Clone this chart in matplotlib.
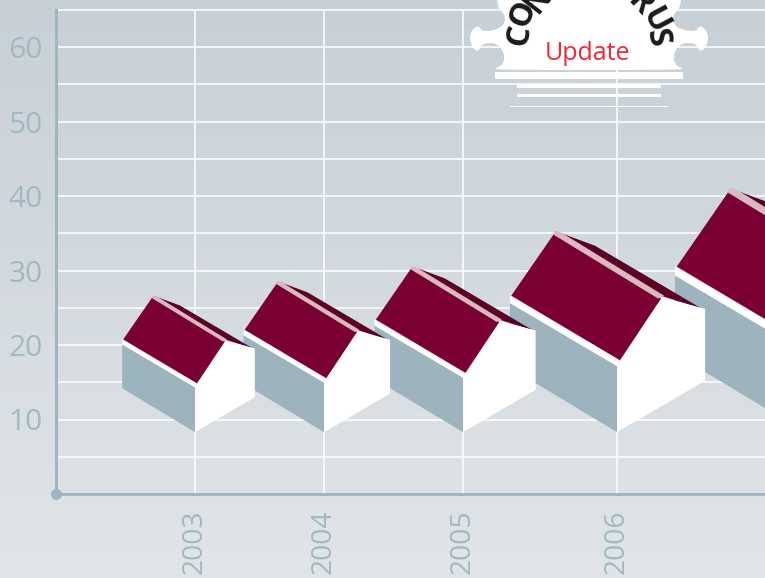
import numpy as np
import matplotlib
matplotlib.use("Agg")
import matplotlib.pyplot as plt
from matplotlib.patches import Polygon, PathPatch
from matplotlib.path import Path

plt.rcParams['font.family'] = ['Open Sans', 'DejaVu Sans']

# data
years = [2003, 2004, 2005, 2006, 2007]
values = [26.5, 28.4, 30.4, 35.1, 40.8]
slots = [195, 324, 463, 617, 805]
y_major = [10, 20, 30, 40, 50, 60]
y_grid = [5, 10, 15, 20, 25, 30, 35, 40, 45, 50, 55, 60, 65]
logo_letters = ['C', 'O', 'N', 'R', 'U', 'S']
logo_word = 'Update'

W, H = 765, 578
PX = 7.45           # pixels per value unit
BASE = 8.3          # value level of the houses' front corner
REF = 136.0         # template height in px
AXC = '#9fb6c0'
TXT = '#a2b9c3'

fig = plt.figure(figsize=(W / 100, H / 100), dpi=100)

# background gradient
bg = fig.add_axes([0, 0, 1, 1], zorder=0)
bg.axis('off')
top, bot = np.array([0xc7, 0xd0, 0xd6]) / 255, np.array([0xe1, 0xe5, 0xe8]) / 255
t = np.linspace(0, 1, 256)[:, None, None]
bg.imshow(top * (1 - t) + bot * t, aspect='auto', extent=[0, 1, 0, 1], origin='upper')

# main axes: x in slot units (pixels), y in values
y0_px = 494
ax = fig.add_axes([56 / W, (H - y0_px) / H, (W - 56) / W, y0_px / H], zorder=1)
ax.patch.set_visible(False)

for g in y_grid:
    ax.plot([56, W], [g, g], color='white', lw=1.1, zorder=1, solid_capstyle='butt')
for s in slots[:-1]:
    ax.plot([s, s], [0, 65], color='white', lw=1.1, zorder=1, solid_capstyle='butt')

for sp in ('top', 'right'):
    ax.spines[sp].set_visible(False)
for sp in ('left', 'bottom'):
    ax.spines[sp].set_color(AXC)
    ax.spines[sp].set_linewidth(2.2)
    ax.spines[sp].set_zorder(3)

ax.set_yticks(y_major)
ax.set_xticks(slots, labels=[str(y) for y in years])
ax.set_xlim(56, W)
ax.set_ylim(0, y0_px / PX)
ax.spines['left'].set_bounds(0, 65)
ax.tick_params(axis='y', length=0, pad=9.5, labelsize=21.5, labelcolor=TXT)
ax.tick_params(axis='x', length=0, pad=11, labelsize=20.3, labelcolor=TXT, labelrotation=90)
for lab in ax.get_xticklabels():
    lab.set_x(lab.get_position()[0])
ax.plot([56], [0], 'o', ms=8, color=AXC, clip_on=False, zorder=4, mec='none')

# house template (pixels at reference height), relative to the front-bottom corner
T_WALL = [(-73, 44), (0, 0), (0, 45), (-73, 88)]
T_EAVE = [(-73, 88), (0, 45), (2, 49), (-73, 93)]
T_BACK = [(-42, 137), (-15, 127), (58, 84), (30, 93)]
T_ROOF = [(-72, 93), (-43, 135), (30, 91), (2, 49)]
T_RIDGE = [(-44, 135), (-42, 137), (-38, 136), (32, 93), (28, 91)]
T_END = [(0, 0), (60, 35), (60, 84), (30, 92), (0, 45)]

def place(tpl, xc, v):
    s = (v - BASE) * PX / REF
    return [(xc + s * x, BASE + s * y / PX) for x, y in tpl]

for i in range(len(years) - 1, -1, -1):
    z = 10 + (len(years) - i) * 2
    xc, v = slots[i], values[i]
    for tpl, col in [(T_BACK, '#5c0026'), (T_WALL, '#9db4bf'), (T_EAVE, 'white'),
                     (T_END, 'white'), (T_ROOF, '#7a0033'), (T_RIDGE, '#dcb9c1')]:
        ax.add_patch(Polygon(place(tpl, xc, v), closed=True, fc=col, ec='none', zorder=z))

# logo overlay in pixel space
ov = fig.add_axes([0, 0, 1, 1], zorder=2)
ov.axis('off')
ov.set_xlim(0, W)
ov.set_ylim(H, 0)
CX = 589
left = [(497, -5), (497, 7), (503, 12), (506, 20), (500, 29), (482, 32), (480, 27), (476, 26),
        (470, 33), (470, 42), (474, 50), (479, 51), (482, 43), (498, 43), (505, 55), (503, 65),
        (496, 68), (495, 70)]
right = [(2 * CX - x, y) for x, y in left[::-1]]
pts = np.array(left + right)
verts = [tuple(pts[0])]
codes = [Path.MOVETO]
for k in range(1, len(pts) - 1):
    end = pts[k + 1] if k == len(pts) - 2 else (pts[k] + pts[k + 1]) / 2
    verts += [tuple(pts[k]), tuple(end)]
    codes += [Path.CURVE3, Path.CURVE3]
verts.append(tuple(pts[0]))
codes.append(Path.CLOSEPOLY)
ov.add_patch(PathPatch(Path(verts, codes), fc='white', ec='none'))

for x0, x1, y0, y1 in [(495, 683, 72, 78.5), (517, 661, 83.5, 87.5), (517, 661, 94, 97), (510, 668, 105.7, 107)]:
    ov.add_patch(Polygon([(x0, y0), (x1, y0), (x1, y1), (x0, y1)], fc='white', ec='none'))

letter_xy = [(520, 35), (523, 14), (538, 0), (640, 3), (654, 21), (657, 38)]
letter_rot = [80, 68, 52, -48, -62, -78]
for ch, (lx, ly), r in zip(logo_letters, letter_xy, letter_rot):
    ov.text(lx, ly, ch, rotation=r, rotation_mode='anchor', ha='center', va='center',
            fontsize=23, fontweight='bold', color='#1a1a1a')
ov.text(588, 54, logo_word, ha='center', va='center', fontsize=18, color='#ee2a35')

fig.savefig('out.png', dpi=100)
